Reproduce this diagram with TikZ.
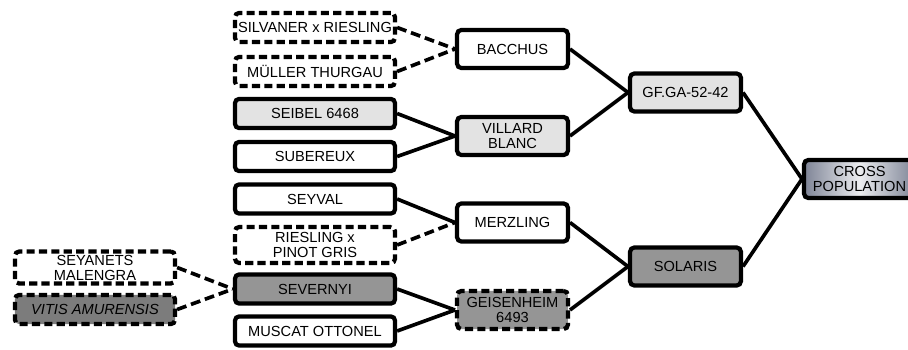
\documentclass[tikz,border=0pt]{standalone}
\usepackage{fontspec}
\setmainfont{Liberation Sans}
\usepackage{xcolor}
\usepackage{tikz}
\usetikzlibrary{positioning}
\definecolor{lightfill}{HTML}{E3E3E3}
\definecolor{darkfill}{HTML}{959595}
\definecolor{darkerfill}{HTML}{7C7C7C}
\definecolor{steel}{HTML}{7E8496}

\begin{document}
\begin{tikzpicture}[
  x=0.025cm, y=-0.025cm,
  font=\fontsize{10.4}{10.7}\selectfont,
  box/.style={rectangle, rounded corners=3pt, draw=black, line width=3pt,
              fill=white, align=center, inner sep=1pt, minimum height=0.73cm},
  wide/.style={box, minimum width=4.0cm},
  narrow/.style={box, minimum width=2.77cm, minimum height=0.95cm},
  dash box/.style={dash pattern=on 5.8pt off 3pt},
  light/.style={fill=lightfill},
  darkbox/.style={fill=darkfill},
  link/.style={line width=2.6pt, color=black},
  dash link/.style={link, dash pattern=on 7pt off 3.5pt},
]
\useasboundingbox (0,0) rectangle (908,349);

\node[wide, dash box, inner ysep=0pt, minimum height=0.8cm] (SEYAN) at (95,267.5) {SEYANETS\\MALENGRA};
\node[wide, dash box, fill=darkerfill, font=\fontsize{10.4}{10.7}\selectfont\itshape] (VITIS) at (95,309.5) {VITIS AMURENSIS};

\node[wide, dash box] (SILV) at (315,27.5) {SILVANER x RIESLING};
\node[wide, dash box] (MUELL) at (315,71.5) {MÜLLER THURGAU};
\node[wide, light] (SEIB) at (315,113.5) {SEIBEL 6468};
\node[wide] (SUBER) at (315,156.5) {SUBEREUX};
\node[wide] (SEYV) at (315,199) {SEYVAL};
\node[wide, dash box, minimum height=0.9cm] (RIES) at (315,245) {RIESLING x\\PINOT GRIS};
\node[wide, darkbox] (SEVER) at (315,289) {SEVERNYI};
\node[wide] (MUSC) at (315,331) {MUSCAT OTTONEL};

\node[narrow] (BACCH) at (512.5,49) {BACCHUS};
\node[narrow, light] (VILL) at (512.5,136) {VILLARD\\BLANC};
\node[narrow] (MERZ) at (512.5,222.5) {MERZLING};
\node[narrow, darkbox, dash box] (GEIS) at (512.5,310) {GEISENHEIM\\6493};

\node[narrow, light] (GF) at (685.5,92.5) {GF.GA-52-42};
\node[narrow, darkbox] (SOLAR) at (685.5,266.5) {SOLARIS};

\node[narrow, left color=steel, right color=steel, middle color=white!85!steel] (CROSS) at (859.5,179) {CROSS\\POPULATION};

\draw[dash link] (SEYAN.east) -- (SEVER.west);
\draw[dash link] (VITIS.east) -- (SEVER.west);
\draw[dash link] (SILV.east) -- (BACCH.west);
\draw[dash link] (MUELL.east) -- (BACCH.west);
\draw[link] (SEIB.east) -- (VILL.west);
\draw[link] (SUBER.east) -- (VILL.west);
\draw[link] (SEYV.east) -- (MERZ.west);
\draw[dash link] (RIES.east) -- (MERZ.west);
\draw[link] (SEVER.east) -- (GEIS.west);
\draw[link] (MUSC.east) -- (GEIS.west);
\draw[link] (BACCH.east) -- (GF.west);
\draw[link] (VILL.east) -- (GF.west);
\draw[link] (MERZ.east) -- (SOLAR.west);
\draw[link] (GEIS.east) -- (SOLAR.west);
\draw[link] (GF.east) -- (CROSS.west);
\draw[link] (SOLAR.east) -- (CROSS.west);
\end{tikzpicture}
\end{document}
